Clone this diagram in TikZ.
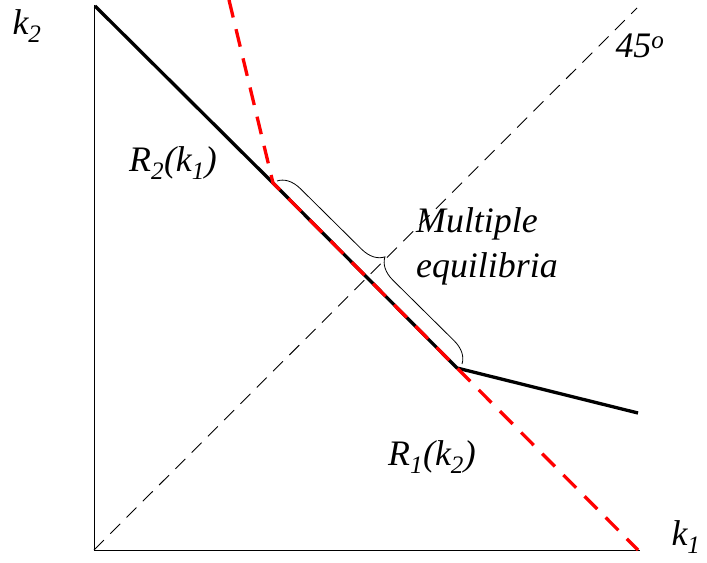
\documentclass[tikz,border=0pt]{standalone}
\usepackage{fontspec}
\setmainfont{Liberation Serif}
\usetikzlibrary{decorations.pathreplacing}
\tikzset{
  axis/.style={line width=1bp, black},
  diag/.style={line width=0.9bp, black, dash pattern=on 14bp off 9bp},
  bestblack/.style={line width=3.3bp, black, line join=round},
  bestred/.style={line width=3.3bp, red, dash pattern=on 18bp off 12bp},
  lbl/.style={font=\fontsize{36}{45}\selectfont\itshape, inner sep=0pt},
  bracestyle/.style={line width=0.8bp, decorate, decoration={brace, amplitude=22bp}}
}
\begin{document}
\begin{tikzpicture}[x=1bp,y=-1bp]
\useasboundingbox (0,0) rectangle (707,563);
\coordinate (O) at (94,550);
\coordinate (Ytop) at (94,5);
\coordinate (Xend) at (640,550);
\coordinate (D) at (637,8);
\coordinate (A) at (95,6);
\coordinate (P) at (273,183);
\coordinate (Q) at (457,368);
\coordinate (E) at (638,413);
\coordinate (Rtop) at (229,0);
\coordinate (Rend) at (638,550);
\coordinate (Bs) at (277,181);
\coordinate (Be) at (462,364);
% axes
\draw[axis] (Ytop) -- (O) -- (Xend);
% 45 degree line
\draw[diag] (O) -- (D);
% R2 (black)
\draw[bestblack] (A) -- (P) -- (Q) -- (E);
% R1 (red dashed)
\draw[bestred] (Rtop) -- (P) -- (Rend);
% brace
\draw[bracestyle] (Bs) -- (Be);
% labels
\node[lbl] (k2) at (27,26) {k\textsubscript{2}};
\node[lbl] (k1) at (686,537) {k\textsubscript{1}};
\node[lbl] (ang) at (640,46) {45\textsuperscript{o}};
\node[lbl] (r2) at (173,163) {R\textsubscript{2}(k\textsubscript{1})};
\node[lbl] (r1) at (432,457) {R\textsubscript{1}(k\textsubscript{2})};
\node[lbl, align=left, anchor=west] (me) at (416,246) {Multiple\\equilibria};
\end{tikzpicture}
\end{document}
